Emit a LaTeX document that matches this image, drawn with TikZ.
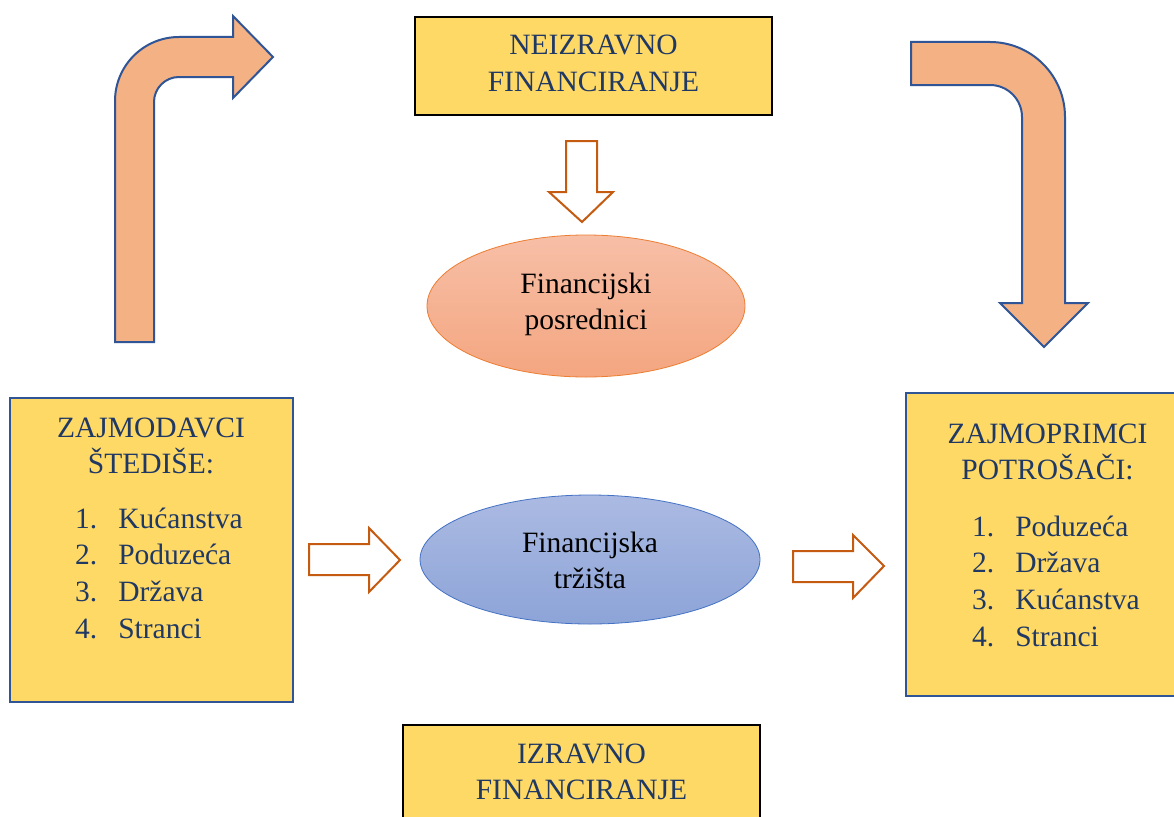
\documentclass[tikz,border=0pt]{standalone}
\usepackage{fontspec}
\setmainfont{Liberation Serif}
\usetikzlibrary{shapes.geometric}
\definecolor{boxyellow}{HTML}{FFD966}
\definecolor{navytext}{HTML}{1F3864}
\definecolor{boxblue}{HTML}{2F5597}
\definecolor{bentfill}{HTML}{F4B183}
\definecolor{hollowline}{HTML}{C55A11}
\definecolor{pinkline}{HTML}{ED7D31}
\definecolor{pinktop}{HTML}{F7BFA7}
\definecolor{pinkbottom}{HTML}{F4A680}
\definecolor{blueline}{HTML}{4472C4}
\definecolor{bluetop}{HTML}{ABBAE2}
\definecolor{bluebottom}{HTML}{8DA4D8}
\begin{document}
\begin{tikzpicture}[x=1pt,y=-1pt,
  every node/.style={inner sep=0, font=\fontsize{29.5}{36.8}\selectfont},
  heading/.style={anchor=base, text=navytext},
  listing/.style={anchor=base west, text=navytext},
  yellowbox/.style={rectangle, fill=boxyellow, line width=1.8pt},
  bent/.style={fill=bentfill, draw=boxblue, line width=2pt, line join=miter},
  hollow/.style={fill=white, draw=hollowline, line width=2pt, line join=miter}]
\clip (0,0) rectangle (1174,816);
\fill[white] (0,0) rectangle (1174,816);
% boxes
\node[yellowbox, draw=black, minimum width=357pt, minimum height=98pt] (neizr) at (593.5,66){};
\node[yellowbox, draw=black, minimum width=357pt, minimum height=100pt] (izr) at (581.5,775){};
\node[yellowbox, draw=boxblue, minimum width=283pt, minimum height=304pt] (lend) at (151.5,550){};
\node[yellowbox, draw=boxblue, minimum width=283pt, minimum height=303pt] (borr) at (1047.5,544.5){};
% ellipses
\node[ellipse, minimum width=318pt, minimum height=142pt, top color=pinktop, bottom color=pinkbottom, draw=pinkline, line width=0.8pt] (posr) at (586,306){};
\node[ellipse, minimum width=340pt, minimum height=129pt, top color=bluetop, bottom color=bluebottom, draw=blueline, line width=0.8pt] (trz) at (590,559.5){};
% texts
\node[heading] (neizrtxt) at (593.5,55){\begin{tabular}[t]{@{}c@{}}NEIZRAVNO\\FINANCIRANJE\end{tabular}};
\node[heading] (izrtxt) at (581.5,763){\begin{tabular}[t]{@{}c@{}}IZRAVNO\\FINANCIRANJE\end{tabular}};
\node[anchor=base] (posrtxt) at (586,293){\begin{tabular}[t]{@{}c@{}}Financijski\\posrednici\end{tabular}};
\node[anchor=base] (trztxt) at (590,552){\begin{tabular}[t]{@{}c@{}}Financijska\\tržišta\end{tabular}};
\node[heading] (lendtxt) at (151,437){\begin{tabular}[t]{@{}c@{}}ZAJMODAVCI\\ŠTEDIŠE:\end{tabular}};
\node[listing] (lendlist) at (75,528){\begin{tabular}[t]{@{}l@{\hspace{21pt}}l@{}}1.&Kućanstva\\2.&Poduzeća\\3.&Država\\4.&Stranci\end{tabular}};
\node[heading] (borrtxt) at (1047.5,443){\begin{tabular}[t]{@{}c@{}}ZAJMOPRIMCI\\POTROŠAČI:\end{tabular}};
\node[listing] (borrlist) at (972,536){\begin{tabular}[t]{@{}l@{\hspace{21pt}}l@{}}1.&Poduzeća\\2.&Država\\3.&Kućanstva\\4.&Stranci\end{tabular}};
% bent arrows
\draw[bent] (115,342) -- (115,101) arc[start angle=180, end angle=270, radius=64] -- (233,37) -- (233,16) -- (273,57) -- (233,98) -- (233,77) -- (179,77) arc[start angle=270, end angle=180, radius=25] -- (154,342) -- cycle;
\draw[bent] (911,42) -- (990,42) arc[start angle=270, end angle=360, radius=75] -- (1065,303) -- (1088,303) -- (1044,347) -- (1000,303) -- (1022,303) -- (1022,117) arc[start angle=0, end angle=-90, radius=32] -- (911,85) -- cycle;
% hollow arrows
\draw[hollow] (566,141) -- (597,141) -- (597,192) -- (613,192) -- (582,222) -- (549,192) -- (566,192) -- cycle;
\draw[hollow] (309,544) -- (369,544) -- (369,528) -- (400,560) -- (369,592) -- (369,575) -- (309,575) -- cycle;
\draw[hollow] (793,551) -- (853,551) -- (853,535) -- (884,566) -- (853,598) -- (853,582) -- (793,582) -- cycle;
\end{tikzpicture}
\end{document}
